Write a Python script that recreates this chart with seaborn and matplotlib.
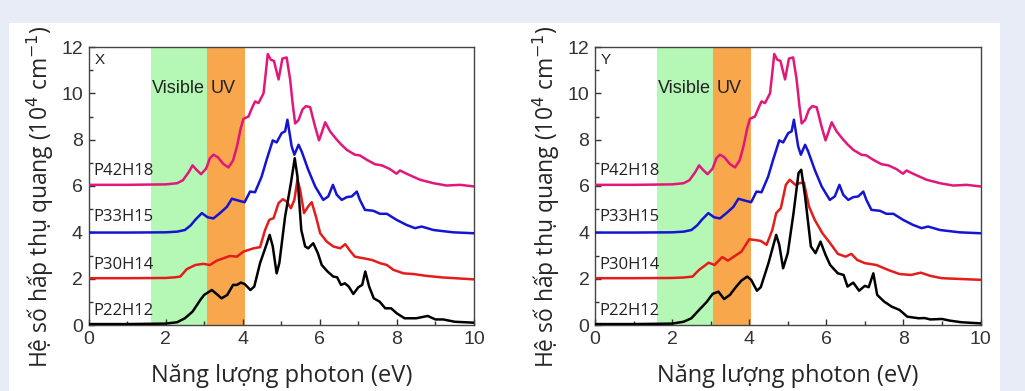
import numpy as np
import pandas as pd
import matplotlib
matplotlib.use("Agg")
import matplotlib.pyplot as plt
from matplotlib.patches import Rectangle
from matplotlib.ticker import MultipleLocator
import seaborn as sns

# ---------------- data ----------------
pink_x = [0, 1.0, 2.0, 2.3, 2.45, 2.6, 2.7, 2.8, 2.92, 3.05, 3.15, 3.24, 3.35, 3.5, 3.63, 3.75, 3.85, 3.95,
          4.02, 4.15, 4.25, 4.32, 4.41, 4.54, 4.6, 4.65, 4.73, 4.81, 4.93, 5.03, 5.14, 5.23, 5.3, 5.36, 5.45,
          5.55, 5.64, 5.75, 5.88, 5.98, 6.05, 6.14, 6.27, 6.44, 6.55, 6.7, 6.91, 7.04, 7.22, 7.43, 7.61, 7.82,
          7.99, 8.08, 8.25, 8.6, 8.95, 9.29, 9.64, 10]
pink_y = [6.05, 6.05, 6.07, 6.12, 6.25, 6.6, 6.89, 6.7, 6.51, 6.75, 7.2, 7.35, 7.25, 6.95, 6.8, 7.1, 7.7, 8.5,
          8.9, 9.0, 9.4, 9.65, 9.58, 10.0, 10.9, 11.7, 11.45, 11.4, 10.6, 11.5, 11.55, 10.6, 9.5, 8.7, 8.85,
          9.3, 9.45, 9.4, 8.55, 7.97, 8.3, 8.75, 8.35, 8.0, 7.8, 7.56, 7.35, 7.32, 7.13, 6.94, 6.89, 6.73,
          6.53, 6.67, 6.53, 6.27, 6.12, 6.02, 6.05, 5.98]

blue_x = [0, 1, 2, 2.3, 2.5, 2.65, 2.77, 2.94, 3.09, 3.24, 3.41, 3.59, 3.72, 3.89, 4.05, 4.19, 4.32, 4.49,
          4.62, 4.78, 4.88, 5.01, 5.1, 5.16, 5.27, 5.34, 5.45, 5.53, 5.7, 5.88, 6.09, 6.22, 6.34, 6.44, 6.57,
          6.7, 6.83, 6.96, 7.04, 7.17, 7.39, 7.56, 7.74, 7.99, 8.25, 8.47, 8.64, 8.95, 9.46, 10]
blue_y = [3.99, 3.99, 4.0, 4.03, 4.1, 4.3, 4.54, 4.83, 4.65, 4.6, 4.83, 5.1, 5.45, 5.37, 5.3, 5.76, 5.73, 6.4,
          7.13, 7.97, 7.88, 8.28, 8.36, 8.86, 7.71, 7.35, 7.78, 7.49, 6.7, 5.98, 5.4, 5.55, 6.05, 5.62, 5.4,
          5.52, 5.55, 5.76, 5.4, 4.97, 4.93, 4.8, 4.8, 4.54, 4.32, 4.18, 4.25, 4.1, 4.0, 3.96]

red_x_X = [0, 1, 2, 2.25, 2.38, 2.55, 2.77, 2.98, 3.15, 3.33, 3.5, 3.67, 3.85, 4.02, 4.28, 4.45, 4.58, 4.69,
           4.8, 4.93, 5.04, 5.14, 5.25, 5.34, 5.42, 5.49, 5.59, 5.7, 5.79, 5.9, 6.01, 6.18, 6.35, 6.53, 6.66,
           6.78, 6.91, 7.13, 7.35, 7.56, 7.74, 7.91, 8.17, 8.43, 8.77, 9.2, 10]
red_y_X = [2.02, 2.02, 2.03, 2.06, 2.09, 2.41, 2.59, 2.64, 2.59, 2.78, 2.88, 2.98, 2.95, 3.17, 3.31, 3.36, 4.1,
           4.54, 4.61, 5.26, 5.43, 5.33, 5.04, 5.4, 6.27, 5.84, 4.83, 5.12, 5.3, 4.68, 3.96, 3.6, 3.39, 3.31,
           3.49, 3.21, 2.95, 2.88, 2.81, 2.67, 2.59, 2.38, 2.23, 2.2, 2.12, 2.05, 1.97]

black_x_X = [0, 1, 2.0, 2.3, 2.5, 2.7, 2.9, 3.0, 3.2, 3.35, 3.45, 3.6, 3.75, 3.85, 3.95, 4.05, 4.2, 4.3, 4.45,
             4.6, 4.7, 4.78, 4.88, 4.95, 5.1, 5.25, 5.35, 5.42, 5.52, 5.62, 5.7, 5.83, 5.95, 6.05, 6.2, 6.35,
             6.45, 6.55, 6.65, 6.75, 6.87, 7.0, 7.1, 7.18, 7.28, 7.4, 7.55, 7.7, 7.85, 8.0, 8.2, 8.5, 8.8,
             9.0, 9.2, 9.5, 10]
black_y_X = [0.04, 0.04, 0.06, 0.12, 0.29, 0.58, 1.08, 1.3, 1.51, 1.3, 1.15, 1.3, 1.73, 1.73, 1.83, 1.77, 1.51,
             1.66, 2.67, 3.39, 3.89, 3.39, 2.23, 2.67, 4.68, 6.12, 7.2, 6.41, 4.1, 3.39, 3.31, 3.53, 3.1, 2.59,
             2.31, 2.09, 2.06, 1.73, 1.8, 1.66, 1.34, 1.63, 1.73, 2.31, 1.66, 1.15, 1.01, 0.72, 0.72, 0.5,
             0.29, 0.29, 0.39, 0.24, 0.24, 0.14, 0.1]

red_x_Y = [0, 1, 2, 2.3, 2.53, 2.7, 2.95, 3.1, 3.3, 3.45, 3.6, 3.8, 4.0, 4.15, 4.3, 4.45, 4.6, 4.7, 4.82,
           4.95, 5.05, 5.2, 5.3, 5.42, 5.55, 5.7, 5.9, 6.1, 6.3, 6.5, 6.65, 6.8, 7.0, 7.3, 7.6, 7.9, 8.2,
           8.45, 8.7, 9.0, 10]
red_y_Y = [2.02, 2.02, 2.03, 2.05, 2.09, 2.38, 2.69, 2.59, 2.93, 2.78, 2.95, 3.17, 3.7, 3.67, 3.63, 3.46, 4.1,
           4.83, 5.04, 6.05, 6.27, 6.05, 6.12, 6.15, 5.12, 4.54, 3.96, 3.53, 3.07, 2.95, 3.07, 2.81, 2.67,
           2.59, 2.38, 2.2, 2.16, 2.26, 2.12, 2.02, 1.95]

black_x_Y = [0, 1, 2.0, 2.3, 2.5, 2.7, 2.9, 3.05, 3.2, 3.35, 3.5, 3.65, 3.8, 3.95, 4.05, 4.2, 4.3, 4.5, 4.7,
             4.78, 4.88, 5.0, 5.15, 5.28, 5.35, 5.45, 5.6, 5.72, 5.85, 5.98, 6.1, 6.3, 6.45, 6.55, 6.7, 6.85,
             7.0, 7.1, 7.22, 7.32, 7.5, 7.7, 7.9, 8.1, 8.4, 8.55, 8.7, 9.0, 9.2, 9.5, 10]
black_y_Y = [0.04, 0.04, 0.06, 0.14, 0.29, 0.65, 1.0, 1.34, 1.44, 1.12, 1.3, 1.63, 1.92, 2.09, 1.95, 1.48, 1.63,
             2.67, 3.89, 3.46, 2.45, 3.1, 4.83, 6.56, 6.7, 5.55, 3.39, 3.1, 3.6, 3.03, 2.59, 2.23, 2.16, 1.66,
             1.83, 1.48, 1.69, 1.63, 2.23, 1.3, 1.01, 0.79, 0.65, 0.36, 0.29, 0.3, 0.24, 0.26, 0.19, 0.12, 0.07]

series_names = ["P42H18", "P33H15", "P30H14", "P22H12"]
label_y = [6.65, 4.65, 2.6, 0.6]
panel_names = ["X", "Y"]
visible_band = (1.62, 3.07)
uv_band = (3.07, 4.05)
xticks = [0, 2, 4, 6, 8, 10]
yticks = [0, 2, 4, 6, 8, 10, 12]

colors = ["#e2177a", "#1414d2", "#e41c1c", "#000000"]

panels = {
    "X": [(pink_x, pink_y), (blue_x, blue_y), (red_x_X, red_y_X), (black_x_X, black_y_X)],
    "Y": [(pink_x, pink_y), (blue_x, blue_y), (red_x_Y, red_y_Y), (black_x_Y, black_y_Y)],
}

# ---------------- figure ----------------
sns.set_style("ticks")
plt.rcParams["font.family"] = ["Liberation Sans", "DejaVu Sans"]
plt.rcParams["lines.solid_joinstyle"] = "round"

W, H = 1025, 391
fig = plt.figure(figsize=(W / 100, H / 100), dpi=100, facecolor="#e8ecf6")
fig.patches.append(Rectangle((9 / W, 0), (1000 - 9) / W, (H - 23) / H, transform=fig.transFigure,
                             facecolor="white", edgecolor="none", zorder=-5))

ax_lefts = [88.5 / W, 595 / W]
ax_w = 385.5 / W
ax_b = 1 - 325 / H
ax_h = (325 - 47) / H

for i, pname in enumerate(panel_names):
    ax = fig.add_axes([ax_lefts[i], ax_b, ax_w, ax_h])
    ax.axvspan(*visible_band, color="#b5f7b5", lw=0, zorder=0)
    ax.axvspan(*uv_band, color="#f8a74c", lw=0, zorder=0)
    for (xs, ys), c, nm in zip(panels[pname], colors, series_names):
        df = pd.DataFrame({"E": xs, "a": ys})
        sns.lineplot(data=df, x="E", y="a", ax=ax, color=c, lw=1.8, sort=False, zorder=3)
    for nm, ly in zip(series_names, label_y):
        ax.text(0.12, ly, nm, fontsize=12, family=["Open Sans", "DejaVu Sans"], va="center", ha="left",
                color="#222222", zorder=4)
    ax.text(0.15, 11.45, pname, fontsize=11, va="center", ha="left", color="#222222")
    ax.text(2.33, 10.2, "Visible", fontsize=13, ha="center", va="center", color="#222222")
    ax.text(3.49, 10.2, "UV", fontsize=13, ha="center", va="center", color="#222222")
    ax.set_xlim(0, 10)
    ax.set_ylim(0, 12)
    ax.set_xticks(xticks)
    ax.set_yticks(yticks)
    ax.xaxis.set_minor_locator(MultipleLocator(1))
    ax.yaxis.set_minor_locator(MultipleLocator(1))
    ax.tick_params(which="both", direction="in", colors="#333333", labelsize=14, pad=4)
    ax.tick_params(which="major", length=4, width=1)
    ax.tick_params(which="minor", length=3, width=1)
    for sp in ax.spines.values():
        sp.set_color("#444444")
        sp.set_linewidth(1.0)
    ax.set_xlabel("Năng lượng photon (eV)", fontsize=17, family=["Open Sans", "DejaVu Sans"], labelpad=12)
    ax.set_ylabel("Hệ số hấp thụ quang (10$^4$ cm$^{-1}$)", fontsize=16.5,
                  family=["Open Sans", "DejaVu Sans"], va="center")
    ax.yaxis.set_label_coords(-0.126, 0.46)
    ax.set_facecolor("white")

fig.savefig("out.png", dpi=100, facecolor=fig.get_facecolor())
